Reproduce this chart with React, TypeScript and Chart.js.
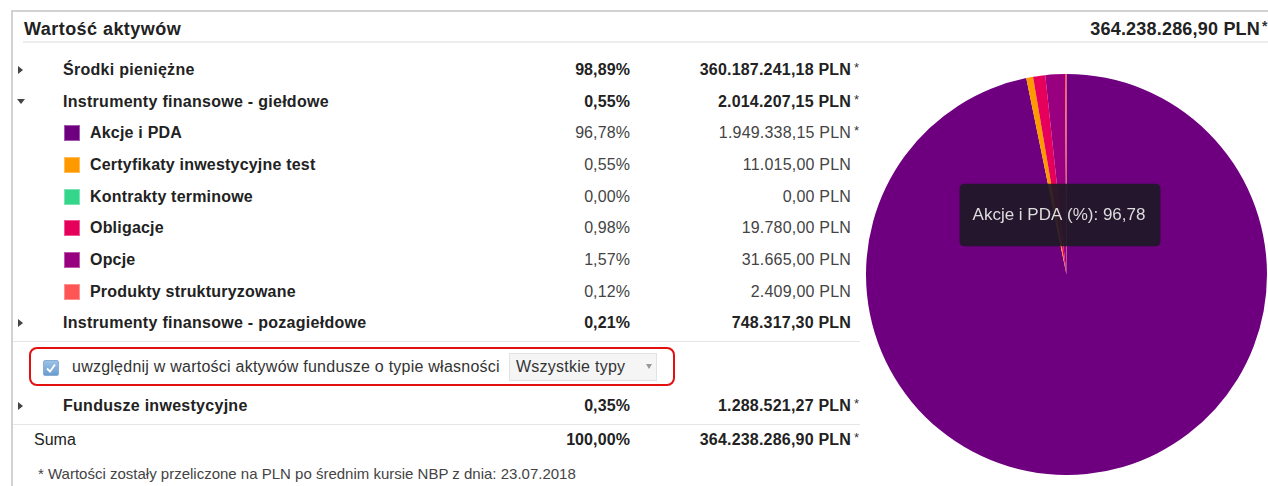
import React, { useEffect, useRef } from "react";
import { Chart, registerables, Tooltip } from "chart.js";

Chart.register(...registerables);

// ---- data ----
const headerTitle = "Wartość aktywów";
const headerTotal = "364.238.286,90 PLN";

const pieLabels = [
  "Akcje i PDA",
  "Certyfikaty inwestycyjne test",
  "Kontrakty terminowe",
  "Obligacje",
  "Opcje",
  "Produkty strukturyzowane",
];
const pieValues = [96.78, 0.55, 0.0, 0.98, 1.57, 0.12];
const pieColors = ["#6e0080", "#ff9900", "#33d68a", "#e6005c", "#990080", "#ff5555"];
const pieAmounts = [
  "1.949.338,15 PLN",
  "11.015,00 PLN",
  "0,00 PLN",
  "19.780,00 PLN",
  "31.665,00 PLN",
  "2.409,00 PLN",
];
const pieStars = [true, false, false, false, false, false];

const groupLabels = [
  "Środki pieniężne",
  "Instrumenty finansowe - giełdowe",
  "Instrumenty finansowe - pozagiełdowe",
  "Fundusze inwestycyjne",
];
const groupPercents = ["98,89%", "0,55%", "0,21%", "0,35%"];
const groupAmounts = ["360.187.241,18 PLN", "2.014.207,15 PLN", "748.317,30 PLN", "1.288.521,27 PLN"];
const groupStars = [true, true, false, true];
const groupExpanded = [false, true, false, false];

const sumLabel = "Suma";
const sumPercent = "100,00%";
const sumAmount = "364.238.286,90 PLN";
const checkboxText = "uwzględnij w wartości aktywów fundusze o typie własności";
const selectText = "Wszystkie typy";
const footnote = "* Wartości zostały przeliczone na PLN po średnim kursie NBP z dnia: 23.07.2018";

const tooltipIndex = 0;

const FONT = '"Liberation Sans", Arial, Helvetica, sans-serif';
const fmtPct = (v: number) => v.toFixed(2).replace(".", ",") + "%";

(Tooltip.positioners as any).fixedPoint = function (_els: any, pos: any) {
  return { x: pos.x, y: pos.y };
};

function Triangle({ open, x, y }: { open: boolean; x: number; y: number }) {
  const style: React.CSSProperties = open
    ? {
        position: "absolute",
        left: x,
        top: y - 3,
        width: 0,
        height: 0,
        borderLeft: "4px solid transparent",
        borderRight: "4px solid transparent",
        borderTop: "5px solid #444",
      }
    : {
        position: "absolute",
        left: x + 1,
        top: y - 4,
        width: 0,
        height: 0,
        borderTop: "4px solid transparent",
        borderBottom: "4px solid transparent",
        borderLeft: "5px solid #444",
      };
  return <div style={style} />;
}

function Row(props: {
  y: number;
  name: string;
  nameBold: boolean;
  bold: boolean;
  pct: string;
  amount: string;
  star: boolean;
  tri?: "open" | "closed" | null;
  color?: string | null;
  nameX?: number;
}) {
  const { y, name, nameBold, bold, pct, amount, star, tri, color, nameX } = props;
  const weight = bold ? 700 : 400;
  const tc = bold ? "#222" : "#444";
  const top = y - 10;
  const base: React.CSSProperties = {
    position: "absolute",
    top,
    height: 20,
    lineHeight: "20px",
    fontSize: 16,
    whiteSpace: "nowrap",
  };
  return (
    <>
      {tri ? <Triangle open={tri === "open"} x={17} y={y} /> : null}
      {color ? (
        <div
          style={{
            position: "absolute",
            left: 64,
            top: y - 8,
            width: 16,
            height: 16,
            background: color,
            boxShadow: "inset 0 0 0 1px rgba(255,255,255,0.35)",
          }}
        />
      ) : null}
      <div
        style={{
          ...base,
          left: nameX ?? (color ? 90 : 63),
          fontWeight: nameBold ? 700 : 400,
          letterSpacing: nameBold ? (color ? "0.2px" : "0.28px") : "0px",
          color: "#222",
        }}
      >
        {name}
      </div>
      <div style={{ ...base, right: 1268 - 630, fontWeight: weight, color: tc, letterSpacing: "0.1px" }}>{pct}</div>
      <div style={{ ...base, right: 1268 - 851, fontWeight: weight, color: tc, letterSpacing: "0.2px" }}>{amount}</div>
      {star ? (
        <div style={{ ...base, left: 854, fontSize: 13, top: top - 2, color: "#333" }}>*</div>
      ) : null}
    </>
  );
}

export default function App() {
  const canvasRef = useRef<HTMLCanvasElement | null>(null);

  useEffect(() => {
    const canvas = canvasRef.current;
    if (!canvas) return;
    const chart = new Chart(canvas, {
      type: "pie",
      data: {
        labels: pieLabels,
        datasets: [
          {
            data: pieValues,
            backgroundColor: pieColors,
            borderWidth: 0,
            hoverOffset: 0,
          },
        ],
      },
      options: {
        animation: false,
        responsive: false,
        events: [],
        layout: { padding: 0 },
        plugins: {
          legend: { display: false },
          tooltip: {
            enabled: true,
            position: "fixedPoint" as any,
            xAlign: "center",
            yAlign: "center",
            caretSize: 0,
            caretPadding: 0,
            cornerRadius: 5,
            displayColors: false,
            backgroundColor: "rgba(28,24,34,0.9)",
            bodyColor: "#dddddd",
            bodyFont: { family: FONT, size: 17 },
            padding: { top: 21, bottom: 21, left: 13, right: 15 },
            callbacks: {
              title: () => "",
              label: (ctx: any) => `${ctx.label} (%): ${Number(ctx.parsed).toFixed(2).replace(".", ",")}`,
            },
          },
        },
      },
    });
    chart.tooltip?.setActiveElements([{ datasetIndex: 0, index: tooltipIndex }], { x: 194, y: 141 });
    chart.update();
    return () => chart.destroy();
  }, []);

  const rows: any[] = [];
  const rowY = (i: number) => 70 + i * 31.65;
  let i = 0;
  rows.push(
    <Row key="g0" y={rowY(i++)} name={groupLabels[0]} nameBold bold pct={groupPercents[0]} amount={groupAmounts[0]} star={groupStars[0]} tri={groupExpanded[0] ? "open" : "closed"} />
  );
  rows.push(
    <Row key="g1" y={rowY(i++)} name={groupLabels[1]} nameBold bold pct={groupPercents[1]} amount={groupAmounts[1]} star={groupStars[1]} tri={groupExpanded[1] ? "open" : "closed"} />
  );
  pieLabels.forEach((lab, k) => {
    rows.push(
      <Row key={"s" + k} y={rowY(i++)} name={lab} nameBold bold={false} pct={fmtPct(pieValues[k])} amount={pieAmounts[k]} star={pieStars[k]} color={pieColors[k]} />
    );
  });
  rows.push(
    <Row key="g2" y={rowY(i++)} name={groupLabels[2]} nameBold bold pct={groupPercents[2]} amount={groupAmounts[2]} star={groupStars[2]} tri={groupExpanded[2] ? "open" : "closed"} />
  );

  return (
    <div
      style={{
        position: "absolute",
        left: 0,
        top: 0,
        width: 1268,
        height: 486,
        overflow: "hidden",
        background: "#fff",
        fontFamily: FONT,
      }}
    >
      {/* frame */}
      <div
        style={{
          position: "absolute",
          left: 11,
          top: 10,
          width: 1300,
          height: 520,
          borderTop: "2px solid #d2d2d2",
          borderLeft: "2px solid #d2d2d2",
        }}
      />
      {/* header */}
      <div style={{ position: "absolute", left: 24, top: 18, height: 22, lineHeight: "22px", fontSize: 18, fontWeight: 700, letterSpacing: "0.45px", color: "#222", whiteSpace: "nowrap" }}>
        {headerTitle}
      </div>
      <div style={{ position: "absolute", right: 1268 - 1260, top: 18, height: 22, lineHeight: "22px", fontSize: 18, fontWeight: 700, letterSpacing: "0.2px", color: "#222", whiteSpace: "nowrap" }}>
        {headerTotal}
      </div>
      <div style={{ position: "absolute", left: 1262, top: 16, height: 20, lineHeight: "20px", fontSize: 14, fontWeight: 700, color: "#333" }}>*</div>
      <div style={{ position: "absolute", left: 23, top: 41, width: 1260, height: 2, background: "#ececec" }} />

      {rows}

      {/* separator */}
      <div style={{ position: "absolute", left: 13, top: 341, width: 847, height: 1, background: "#e6e6e6" }} />

      {/* red box with checkbox */}
      <div
        style={{
          position: "absolute",
          left: 29,
          top: 347,
          width: 642,
          height: 35,
          border: "2px solid #e41010",
          borderRadius: 8,
        }}
      />
      <div
        style={{
          position: "absolute",
          left: 43,
          top: 360,
          width: 14,
          height: 14,
          border: "1px solid #8aaed2",
          borderRadius: 2,
          background: "linear-gradient(#9cc2e6, #6a9cd0)",
        }}
      >
        <svg width="14" height="14" style={{ position: "absolute", left: 0, top: 0 }}>
          <polyline points="3,7.5 6,10.5 11,3.5" fill="none" stroke="#fff" strokeWidth="1.8" />
        </svg>
      </div>
      <div style={{ position: "absolute", left: 72, top: 357, height: 20, lineHeight: "20px", fontSize: 16, letterSpacing: "0.24px", color: "#333", whiteSpace: "nowrap" }}>
        {checkboxText}
      </div>
      <div
        style={{
          position: "absolute",
          left: 509,
          top: 353,
          width: 146,
          height: 26,
          background: "#f5f5f5",
          border: "1px solid #e2e2e2",
        }}
      >
        <div style={{ position: "absolute", left: 6, top: 3, height: 20, lineHeight: "20px", fontSize: 16, letterSpacing: "0.25px", color: "#333", whiteSpace: "nowrap" }}>
          {selectText}
        </div>
        <div style={{ position: "absolute", left: 136, top: 10, width: 0, height: 0, borderLeft: "3px solid transparent", borderRight: "3px solid transparent", borderTop: "5px solid #999" }} />
      </div>

      <Row y={406} name={groupLabels[3]} nameBold bold pct={groupPercents[3]} amount={groupAmounts[3]} star={groupStars[3]} tri={groupExpanded[3] ? "open" : "closed"} />
      <div style={{ position: "absolute", left: 13, top: 424, width: 847, height: 1, background: "#e6e6e6" }} />
      <Row y={440} name={sumLabel} nameBold={false} bold nameX={34} pct={sumPercent} amount={sumAmount} star={true} tri={null} />

      <div style={{ position: "absolute", left: 38, top: 465, height: 18, lineHeight: "18px", fontSize: 15, color: "#444", whiteSpace: "nowrap" }}>
        {footnote}
      </div>

      {/* pie */}
      <div style={{ position: "absolute", left: 866, top: 74, width: 401, height: 401 }}>
        <canvas ref={canvasRef} width={401} height={401} style={{ width: 401, height: 401, display: "block" }} />
      </div>
    </div>
  );
}
